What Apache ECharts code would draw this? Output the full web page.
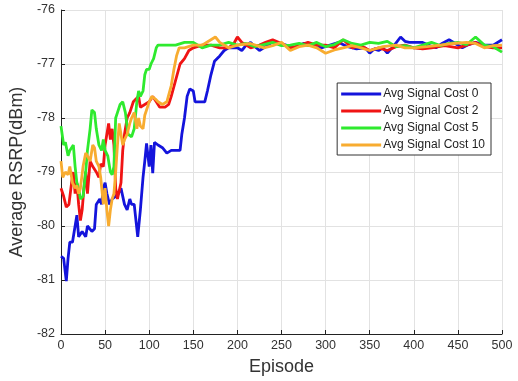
<!DOCTYPE html>
<html>
<head>
<meta charset="utf-8">
<script src="https://cdn.jsdelivr.net/npm/echarts@6/dist/echarts.min.js"></script>
<style>
  html, body { margin: 0; padding: 0; background: #fff; }
  #chart { width: 518px; height: 381px; }
</style>
</head>
<body>
<div id="chart"></div>
<script>
const seriesNames = ['Avg Signal Cost 0', 'Avg Signal Cost 2', 'Avg Signal Cost 5', 'Avg Signal Cost 10']
const seriesColors = ['#1414dc', '#f01414', '#2eea2e', '#f8ac30']

const epCost0 = [0, 3, 6, 8, 10, 13, 16, 18, 20, 24, 28, 30, 35, 38, 40, 44, 46, 48, 50, 52, 55, 58, 62, 65, 68, 72, 75, 78, 80, 83, 85, 87, 90, 93, 95, 97, 100, 102, 104, 106, 110, 115, 120, 125, 130, 135, 137, 140, 143, 146, 150, 152, 158, 163, 166, 170, 174, 180, 185, 190, 200, 205, 210, 215, 220, 225, 230, 235, 240, 245, 255, 265, 275, 285, 295, 305, 315, 325, 335, 345, 350, 355, 360, 365, 370, 378, 385, 390, 395, 400, 410, 418, 425, 432, 440, 447, 455, 462, 470, 480, 490, 500]
const valCost0 = [-80.56, -80.6, -81.02, -80.6, -80.3, -80.3, -80.0, -79.8, -80.2, -80.1, -80.2, -80.0, -80.1, -80.05, -79.6, -79.5, -79.6, -79.3, -79.2, -79.4, -79.6, -79.5, -79.45, -79.4, -79.3, -79.6, -79.7, -79.5, -79.6, -79.6, -79.9, -80.2, -79.7, -79.1, -78.8, -78.47, -78.9, -78.5, -79.02, -78.45, -78.5, -78.55, -78.65, -78.6, -78.6, -78.6, -78.3, -78.0, -77.6, -77.46, -77.5, -77.7, -77.7, -77.7, -77.5, -77.2, -76.95, -76.85, -76.75, -76.7, -76.7, -76.75, -76.65, -76.6, -76.68, -76.75, -76.7, -76.65, -76.58, -76.6, -76.65, -76.7, -76.62, -76.65, -76.7, -76.65, -76.6, -76.68, -76.72, -76.7, -76.8, -76.72, -76.75, -76.7, -76.8, -76.65, -76.5, -76.58, -76.6, -76.6, -76.6, -76.66, -76.7, -76.62, -76.55, -76.62, -76.7, -76.64, -76.6, -76.65, -76.65, -76.55]

const epCost2 = [0, 3, 6, 9, 12, 14, 16, 18, 20, 22, 24, 26, 28, 30, 33, 36, 40, 43, 45, 48, 50, 52, 54, 56, 58, 60, 62, 64, 66, 68, 70, 72, 75, 78, 82, 85, 88, 90, 95, 100, 104, 108, 112, 118, 122, 125, 130, 135, 140, 145, 150, 160, 170, 180, 190, 196, 200, 205, 215, 225, 232, 240, 250, 260, 270, 280, 290, 300, 310, 320, 330, 340, 350, 360, 370, 380, 390, 400, 410, 420, 435, 450, 460, 470, 480, 490, 500]
const valCost2 = [-79.3, -79.45, -79.65, -79.6, -79.2, -79.0, -79.4, -79.2, -79.6, -79.9, -79.7, -79.3, -79.0, -79.4, -78.8, -78.9, -79.0, -79.1, -78.85, -78.9, -78.5, -78.3, -78.1, -78.4, -78.2, -78.5, -79.3, -79.5, -79.5, -79.2, -78.6, -78.3, -78.0, -77.9, -77.7, -77.65, -77.6, -77.8, -77.75, -77.7, -77.6, -77.7, -77.8, -77.8, -77.75, -77.6, -77.3, -77.0, -76.9, -76.75, -76.7, -76.65, -76.65, -76.7, -76.7, -76.62, -76.5, -76.6, -76.7, -76.65, -76.6, -76.55, -76.62, -76.7, -76.66, -76.6, -76.65, -76.65, -76.7, -76.55, -76.7, -76.66, -76.75, -76.7, -76.75, -76.68, -76.65, -76.7, -76.72, -76.7, -76.66, -76.7, -76.65, -76.6, -76.68, -76.7, -76.7]

const epCost5 = [0, 3, 5, 8, 10, 14, 16, 18, 20, 22, 25, 28, 30, 33, 35, 38, 40, 43, 46, 48, 50, 53, 56, 58, 60, 62, 64, 67, 70, 73, 76, 80, 83, 86, 88, 90, 93, 95, 97, 100, 102, 105, 108, 110, 120, 130, 140, 150, 160, 170, 180, 190, 200, 210, 220, 230, 240, 250, 260, 270, 280, 290, 300, 310, 320, 330, 340, 350, 360, 370, 380, 390, 400, 410, 420, 430, 440, 450, 460, 470, 480, 490, 500]
const valCost5 = [-78.15, -78.5, -78.45, -78.7, -78.6, -78.5, -78.9, -79.2, -79.3, -79.5, -79.45, -79.0, -78.6, -78.2, -77.85, -77.9, -78.2, -78.5, -78.6, -78.4, -78.6, -78.7, -79.0, -79.05, -78.9, -78.0, -77.9, -77.75, -77.7, -77.9, -78.3, -78.35, -78.2, -77.7, -77.5, -77.6, -77.5, -77.2, -77.1, -77.1, -77.0, -76.9, -76.7, -76.65, -76.65, -76.65, -76.6, -76.6, -76.7, -76.65, -76.65, -76.6, -76.65, -76.62, -76.68, -76.64, -76.6, -76.66, -76.65, -76.62, -76.66, -76.6, -76.68, -76.64, -76.55, -76.62, -76.65, -76.6, -76.62, -76.58, -76.68, -76.66, -76.7, -76.65, -76.6, -76.66, -76.62, -76.6, -76.64, -76.5, -76.65, -76.68, -76.78]

const epCost10 = [0, 2, 5, 8, 10, 13, 16, 18, 20, 22, 25, 28, 30, 33, 36, 38, 40, 43, 45, 48, 50, 52, 54, 56, 58, 60, 62, 64, 66, 68, 70, 72, 75, 78, 80, 83, 86, 88, 90, 93, 95, 98, 100, 103, 107, 110, 115, 120, 125, 128, 131, 134, 140, 150, 160, 170, 175, 180, 190, 200, 215, 230, 240, 250, 260, 270, 280, 290, 300, 310, 320, 330, 340, 350, 365, 380, 390, 400, 415, 430, 445, 460, 470, 480, 490, 500]
const valCost10 = [-78.8, -79.1, -79.0, -79.05, -78.9, -79.2, -79.3, -79.25, -79.4, -79.3, -78.9, -78.65, -78.7, -78.8, -78.5, -78.55, -78.8, -78.9, -79.1, -79.6, -79.3, -79.7, -80.0, -79.7, -79.5, -79.4, -79.0, -78.5, -78.1, -78.3, -78.5, -78.4, -78.3, -78.1, -78.0, -77.9, -78.2, -78.0, -78.15, -78.2, -77.95, -77.8, -77.7, -77.6, -77.65, -77.7, -77.75, -77.7, -77.4, -77.1, -76.85, -76.7, -76.7, -76.65, -76.65, -76.55, -76.5, -76.6, -76.7, -76.65, -76.62, -76.7, -76.66, -76.6, -76.75, -76.68, -76.65, -76.7, -76.8, -76.74, -76.7, -76.66, -76.7, -76.75, -76.68, -76.65, -76.7, -76.7, -76.68, -76.65, -76.62, -76.6, -76.62, -76.7, -76.66, -76.65]

const xTicks = [0, 50, 100, 150, 200, 250, 300, 350, 400, 450, 500]
const yTicks = [-82, -81, -80, -79, -78, -77, -76]

const epLists = [epCost0, epCost2, epCost5, epCost10]
const valLists = [valCost0, valCost2, valCost5, valCost10]

const chart = echarts.init(document.getElementById('chart'))
const axisFont = { fontFamily: 'Liberation Sans', fontSize: 12.5, color: '#333' }

chart.setOption({
  animation: false,
  grid: { left: 61, right: 16, top: 10, bottom: 46 },
  legend: {
    orient: 'vertical',
    right: 27,
    top: 83,
    data: seriesNames.map(n => ({ name: n, icon: 'rect' })),
    backgroundColor: '#fff',
    borderColor: '#333',
    borderWidth: 1,
    borderRadius: 0,
    padding: [4, 6, 3, 4],
    itemGap: 3,
    itemWidth: 40,
    itemHeight: 3,
    textStyle: { fontFamily: 'Liberation Sans', fontSize: 12, color: '#222', lineHeight: 14, padding: [0, 0, 0, -3] }
  },
  xAxis: {
    type: 'value',
    min: xTicks[0],
    max: xTicks[xTicks.length - 1],
    interval: 50,
    name: 'Episode',
    nameLocation: 'middle',
    nameGap: 24,
    nameTextStyle: { fontFamily: 'Liberation Sans', fontSize: 18, color: '#333' },
    axisLine: { lineStyle: { color: '#222', width: 1 } },
    axisTick: { inside: true, length: 4, lineStyle: { color: '#222' } },
    axisLabel: Object.assign({ margin: 5 }, axisFont),
    splitLine: { show: true, lineStyle: { color: '#e2e2e2' } }
  },
  yAxis: {
    type: 'value',
    min: yTicks[0],
    max: yTicks[yTicks.length - 1],
    interval: 1,
    name: 'Average RSRP(dBm)',
    nameLocation: 'middle',
    nameGap: 33,
    nameTextStyle: { fontFamily: 'Liberation Sans', fontSize: 18, color: '#333' },
    axisLine: { show: true, lineStyle: { color: '#222', width: 1 } },
    axisTick: { show: true, inside: true, length: 4, lineStyle: { color: '#222' } },
    axisLabel: Object.assign({ margin: 6 }, axisFont),
    splitLine: { show: true, lineStyle: { color: '#e2e2e2' } }
  },
  series: seriesNames.map((name, i) => ({
    name: name,
    type: 'line',
    symbol: 'none',
    data: epLists[i].map((ep, j) => [ep, valLists[i][j]]),
    lineStyle: { width: 2.8, color: seriesColors[i] },
    itemStyle: { color: seriesColors[i] }
  }))
})
</script>
</body>
</html>
